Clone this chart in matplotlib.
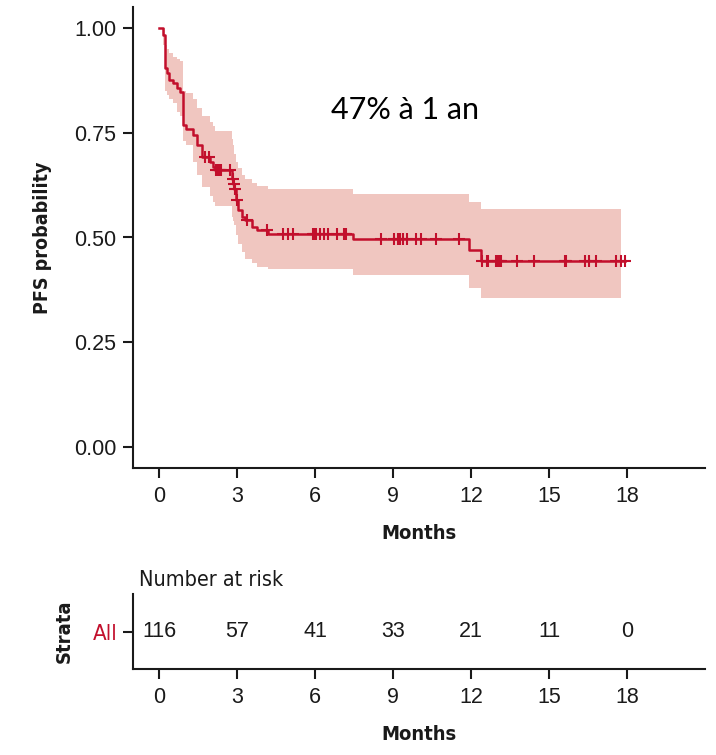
import numpy as np
import matplotlib
matplotlib.use("Agg")
import matplotlib.pyplot as plt
from matplotlib import font_manager

# ---- data -------------------------------------------------------------
# Kaplan-Meier estimate: step times (months) and values after each step
step_times = [0.00, 0.17, 0.23, 0.32, 0.40, 0.55, 0.68, 0.80, 0.93, 1.05,
              1.30, 1.47, 1.65, 1.98, 2.09, 2.15, 2.82, 2.86, 2.90, 2.96,
              3.05, 3.18, 3.31, 3.57, 3.76, 4.20, 7.47, 11.92, 12.40]
surv = [1.000, 0.983, 0.905, 0.892, 0.876, 0.868, 0.856, 0.848, 0.768, 0.760,
        0.744, 0.720, 0.692, 0.680, 0.668, 0.660, 0.640, 0.628, 0.616, 0.589,
        0.565, 0.549, 0.541, 0.526, 0.518, 0.509, 0.497, 0.469, 0.445]
ci_upper = [1.000, 1.000, 0.960, 0.950, 0.940, 0.930, 0.925, 0.920, 0.850, 0.845,
            0.830, 0.810, 0.790, 0.775, 0.765, 0.755, 0.735, 0.720, 0.700, 0.680,
            0.665, 0.648, 0.640, 0.630, 0.624, 0.615, 0.603, 0.585, 0.569]
ci_lower = [1.000, 0.960, 0.850, 0.840, 0.830, 0.820, 0.800, 0.790, 0.730, 0.720,
            0.680, 0.650, 0.620, 0.600, 0.585, 0.575, 0.550, 0.540, 0.530, 0.505,
            0.485, 0.465, 0.449, 0.438, 0.430, 0.425, 0.410, 0.380, 0.355]
curve_end = 17.92
band_end = 17.75

# censored observations (months)
censor_times = [1.77, 1.92, 2.20, 2.25, 2.30, 2.35, 2.40, 2.73, 2.84, 2.88,
                2.92, 2.99, 3.40, 4.15, 4.78, 4.97, 5.17, 5.93, 5.98, 6.04,
                6.19, 6.35, 6.51, 6.86, 7.13, 7.17, 7.20, 8.53, 9.05, 9.18,
                9.27, 9.40, 9.55, 9.88, 10.06, 10.65, 11.55, 12.42, 12.60,
                12.66, 12.95, 13.02, 13.10, 13.16, 13.78, 14.42, 15.60, 15.66,
                16.38, 16.55, 16.80, 17.58, 17.76, 17.92]

# number-at-risk table
risk_times = [0, 3, 6, 9, 12, 15, 18]
risk_counts = [116, 57, 41, 33, 21, 11, 0]
strata_label = "All"

x_ticks = [0, 3, 6, 9, 12, 15, 18]
y_ticks = [0.00, 0.25, 0.50, 0.75, 1.00]
annotation = "47% à 1 an"

# ---- style ------------------------------------------------------------
LINE = "#C20F2C"
BAND = "#F0C6C0"
INK = "#1a1a1a"
TICK_SIZE = 15.5

available = {f.name for f in font_manager.fontManager.ttflist}
REG = "Liberation Sans"
NOTE_FONT = "Lato" if "Lato" in available else "DejaVu Sans"
if "Liberation Sans Narrow" in available:
    TITLE_KW = dict(family="Liberation Sans Narrow", fontweight="bold")
    NARROW_KW = dict(family="Liberation Sans Narrow")
else:
    TITLE_KW = dict(family="DejaVu Sans", fontstretch="condensed", fontweight="bold")
    NARROW_KW = dict(family="DejaVu Sans", fontstretch="condensed")

fig = plt.figure(figsize=(7.16, 7.55), dpi=100)
W, H = 716, 755

def px_axes(left, top, right, bottom):
    return fig.add_axes([left / W, 1 - bottom / H, (right - left) / W, (bottom - top) / H])

def style_axes(a):
    for s in ("top", "right"):
        a.spines[s].set_visible(False)
    for s in ("left", "bottom"):
        a.spines[s].set_linewidth(1.5)
        a.spines[s].set_color(INK)
    a.tick_params(axis="both", length=7, width=1.5, color=INK,
                  labelsize=TICK_SIZE, labelcolor=INK)
    a.tick_params(axis="x", pad=6)

# ---- survival plot ----------------------------------------------------
ax = px_axes(133, 7, 705, 468)
ax.set_xlim(-1, 21)
ax.set_ylim(-0.05, 1.05)

bt = np.array(step_times + [band_end])
bu = np.array(ci_upper + [ci_upper[-1]])
bl = np.array(ci_lower + [ci_lower[-1]])
ax.fill_between(bt, bl, bu, step="post", color=BAND, linewidth=0, zorder=1)

st = np.array(step_times + [curve_end])
sv = np.array(surv + [surv[-1]])
ax.step(st, sv, where="post", color=LINE, linewidth=1.8, zorder=3)

idx = np.searchsorted(np.array(step_times), np.array(censor_times), side="right") - 1
cens_s = np.array(surv)[idx]
ax.plot(censor_times, cens_s, linestyle="none", marker="+", markersize=8.5,
        markeredgewidth=1.5, color=LINE, zorder=4)

ax.set_xticks(x_ticks)
ax.set_yticks(y_ticks)
ax.set_yticklabels([f"{v:.2f}" for v in y_ticks])
style_axes(ax)
ax.tick_params(axis="y", pad=5)
for lab in ax.get_xticklabels() + ax.get_yticklabels():
    lab.set_family(REG)

ax.set_xlabel("Months", fontsize=14.5, color=INK, labelpad=12, **TITLE_KW)
ax.set_ylabel("PFS probability", fontsize=14, color=INK, labelpad=16, **TITLE_KW)

fig.text(405 / W, 1 - 110 / H, annotation, fontsize=22, family=NOTE_FONT,
         color="black", ha="center", va="center")

# ---- risk table -------------------------------------------------------
rt = px_axes(133, 594, 705, 669)
rt.set_xlim(-1, 21)
rt.set_ylim(0.5, 1.5)
for t, n in zip(risk_times, risk_counts):
    rt.text(t, 1, str(n), ha="center", va="center", fontsize=TICK_SIZE,
            family=REG, color=INK)
rt.set_xticks(x_ticks)
rt.set_yticks([1])
rt.set_yticklabels([strata_label])
style_axes(rt)
rt.tick_params(axis="y", pad=4)
for lab in rt.get_xticklabels():
    lab.set_family(REG)
ylab = rt.get_yticklabels()[0]
ylab.set_color(LINE)
ylab.set_fontsize(16)
ylab.set_fontfamily(NARROW_KW["family"])
if "fontstretch" in NARROW_KW:
    ylab.set_fontstretch(NARROW_KW["fontstretch"])

rt.set_xlabel("Months", fontsize=14.5, color=INK, labelpad=12, **TITLE_KW)
rt.set_ylabel("Strata", fontsize=14.5, color=INK, labelpad=14, **TITLE_KW)
rt.set_title("Number at risk", loc="left", fontsize=15.5, color=INK, pad=6,
             x=0.01, **NARROW_KW)

fig.savefig("out.png", dpi=100)
